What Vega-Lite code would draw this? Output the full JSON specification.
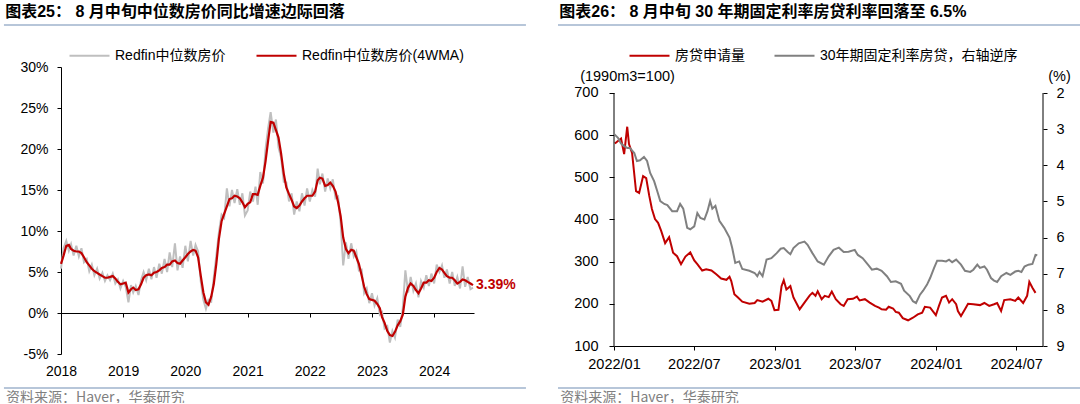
{
  "$schema": "https://vega.github.io/schema/vega-lite/v6.json",
  "background": "#ffffff",
  "padding": {"left": 3, "top": 4, "right": 0, "bottom": -3},
  "spacing": 30,
  "bounds": "full",
  "resolve": {"scale": {"color": "independent"}, "legend": {"color": "independent"}},
  "config": {
    "font": "Liberation Sans, Noto Sans CJK SC",
    "view": {"stroke": null},
    "axis": {"grid": false, "domainColor": "#000000", "tickColor": "#000000", "labelColor": "#000000", "labelFont": "Liberation Sans, Noto Sans CJK SC", "titleFont": "Liberation Sans, Noto Sans CJK SC", "titleColor": "#000000", "titleFontWeight": "normal", "domainWidth": 1, "tickWidth": 1},
    "legend": {"labelFont": "Liberation Sans, Noto Sans CJK SC", "labelColor": "#000000"},
    "title": {"font": "Liberation Sans, Noto Sans CJK SC", "color": "#000000"}
  },
  "datasets": {
    "redfin": [
      {"d":"2018-01-01","wma":6.0,"raw":5.4},{"d":"2018-01-16","wma":7.0,"raw":7.9},{"d":"2018-02-01","wma":8.2,"raw":8.8},{"d":"2018-02-16","wma":8.3,"raw":7.6},
      {"d":"2018-03-01","wma":7.8,"raw":8.4},{"d":"2018-03-16","wma":7.6,"raw":7.0},{"d":"2018-04-01","wma":7.5,"raw":8.2},{"d":"2018-04-16","wma":7.5,"raw":6.9},
      {"d":"2018-05-01","wma":7.3,"raw":7.9},{"d":"2018-05-16","wma":6.8,"raw":6.2},{"d":"2018-06-01","wma":6.2,"raw":6.6},{"d":"2018-06-16","wma":5.8,"raw":5.1},
      {"d":"2018-07-01","wma":5.4,"raw":5.9},{"d":"2018-07-16","wma":5.1,"raw":4.6},{"d":"2018-08-01","wma":4.9,"raw":5.4},{"d":"2018-08-16","wma":4.7,"raw":4.2},
      {"d":"2018-09-01","wma":4.5,"raw":4.9},{"d":"2018-09-16","wma":4.3,"raw":3.9},{"d":"2018-10-01","wma":4.3,"raw":4.6},{"d":"2018-10-16","wma":4.4,"raw":4.0},
      {"d":"2018-11-01","wma":4.5,"raw":4.8},{"d":"2018-11-16","wma":4.2,"raw":3.6},{"d":"2018-12-01","wma":3.8,"raw":4.1},{"d":"2018-12-16","wma":3.5,"raw":3.0},
      {"d":"2019-01-01","wma":3.6,"raw":3.9},{"d":"2019-01-16","wma":3.7,"raw":3.2},{"d":"2019-02-01","wma":2.5,"raw":1.3},{"d":"2019-02-16","wma":2.9,"raw":3.4},
      {"d":"2019-03-01","wma":3.1,"raw":2.5},{"d":"2019-03-16","wma":2.8,"raw":3.3},{"d":"2019-04-01","wma":2.9,"raw":2.2},{"d":"2019-04-16","wma":3.5,"raw":4.0},
      {"d":"2019-05-01","wma":4.3,"raw":5.0},{"d":"2019-05-16","wma":4.6,"raw":4.0},{"d":"2019-06-01","wma":4.7,"raw":5.4},{"d":"2019-06-16","wma":4.6,"raw":4.1},
      {"d":"2019-07-01","wma":4.9,"raw":5.6},{"d":"2019-07-16","wma":5.0,"raw":4.3},{"d":"2019-08-01","wma":5.2,"raw":6.0},{"d":"2019-08-16","wma":5.5,"raw":4.8},
      {"d":"2019-09-01","wma":5.6,"raw":6.6},{"d":"2019-09-16","wma":5.9,"raw":5.0},{"d":"2019-10-01","wma":5.9,"raw":7.4},{"d":"2019-10-16","wma":6.3,"raw":5.6},
      {"d":"2019-11-01","wma":6.4,"raw":8.5},{"d":"2019-11-16","wma":6.1,"raw":5.2},{"d":"2019-12-01","wma":6.0,"raw":6.9},{"d":"2019-12-16","wma":6.4,"raw":5.5},
      {"d":"2020-01-01","wma":6.8,"raw":8.2},{"d":"2020-01-16","wma":7.2,"raw":6.3},{"d":"2020-02-01","wma":7.5,"raw":8.8},{"d":"2020-02-16","wma":7.7,"raw":7.0},
      {"d":"2020-03-01","wma":7.6,"raw":8.3},{"d":"2020-03-16","wma":6.8,"raw":7.5},{"d":"2020-04-01","wma":4.5,"raw":3.8},{"d":"2020-04-16","wma":2.5,"raw":1.6},
      {"d":"2020-05-01","wma":1.3,"raw":0.5},{"d":"2020-05-16","wma":1.0,"raw":1.6},{"d":"2020-06-01","wma":2.0,"raw":1.4},{"d":"2020-06-16","wma":3.5,"raw":4.3},
      {"d":"2020-07-01","wma":6.0,"raw":7.0},{"d":"2020-07-16","wma":9.0,"raw":9.8},{"d":"2020-08-01","wma":11.2,"raw":12.0},{"d":"2020-08-16","wma":12.1,"raw":11.6},
      {"d":"2020-09-01","wma":13.0,"raw":15.2},{"d":"2020-09-16","wma":13.9,"raw":13.0},{"d":"2020-10-01","wma":14.0,"raw":15.0},{"d":"2020-10-16","wma":14.3,"raw":13.4},
      {"d":"2020-11-01","wma":14.2,"raw":15.1},{"d":"2020-11-16","wma":14.0,"raw":13.2},{"d":"2020-12-01","wma":13.5,"raw":14.6},{"d":"2020-12-16","wma":12.9,"raw":11.9},
      {"d":"2021-01-01","wma":13.3,"raw":12.5},{"d":"2021-01-16","wma":13.5,"raw":14.8},{"d":"2021-02-01","wma":14.5,"raw":13.6},{"d":"2021-02-16","wma":14.5,"raw":15.4},
      {"d":"2021-03-01","wma":14.4,"raw":13.2},{"d":"2021-03-16","wma":15.5,"raw":17.2},{"d":"2021-04-01","wma":16.5,"raw":15.8},{"d":"2021-04-16","wma":18.5,"raw":20.0},
      {"d":"2021-05-01","wma":21.0,"raw":22.5},{"d":"2021-05-16","wma":23.3,"raw":24.5},{"d":"2021-06-01","wma":23.2,"raw":22.0},{"d":"2021-06-16","wma":22.3,"raw":23.6},
      {"d":"2021-07-01","wma":21.4,"raw":20.2},{"d":"2021-07-16","wma":19.5,"raw":19.0},{"d":"2021-08-01","wma":17.0,"raw":16.0},{"d":"2021-08-16","wma":15.3,"raw":15.9},
      {"d":"2021-09-01","wma":14.5,"raw":13.6},{"d":"2021-09-16","wma":13.8,"raw":14.6},{"d":"2021-10-01","wma":13.0,"raw":12.0},{"d":"2021-10-16","wma":12.8,"raw":13.6},
      {"d":"2021-11-01","wma":13.1,"raw":12.4},{"d":"2021-11-16","wma":13.6,"raw":14.6},{"d":"2021-12-01","wma":14.0,"raw":13.1},{"d":"2021-12-16","wma":14.3,"raw":15.2},
      {"d":"2022-01-01","wma":14.3,"raw":13.6},{"d":"2022-01-16","wma":14.3,"raw":15.0},{"d":"2022-02-01","wma":14.8,"raw":14.2},{"d":"2022-02-16","wma":16.2,"raw":17.6},
      {"d":"2022-03-01","wma":16.5,"raw":15.7},{"d":"2022-03-16","wma":16.4,"raw":17.0},{"d":"2022-04-01","wma":15.5,"raw":14.8},{"d":"2022-04-16","wma":15.6,"raw":16.4},
      {"d":"2022-05-01","wma":15.9,"raw":15.2},{"d":"2022-05-16","wma":15.5,"raw":16.3},{"d":"2022-06-01","wma":14.8,"raw":14.0},{"d":"2022-06-16","wma":13.5,"raw":14.2},
      {"d":"2022-07-01","wma":11.8,"raw":11.0},{"d":"2022-07-16","wma":9.2,"raw":5.8},{"d":"2022-08-01","wma":7.8,"raw":8.6},{"d":"2022-08-16","wma":7.3,"raw":6.6},
      {"d":"2022-09-01","wma":7.7,"raw":8.5},{"d":"2022-09-16","wma":7.6,"raw":6.9},{"d":"2022-10-01","wma":6.8,"raw":7.5},{"d":"2022-10-16","wma":6.0,"raw":5.2},
      {"d":"2022-11-01","wma":4.6,"raw":5.3},{"d":"2022-11-16","wma":3.2,"raw":2.4},{"d":"2022-12-01","wma":2.3,"raw":3.0},{"d":"2022-12-16","wma":1.7,"raw":1.2},
      {"d":"2023-01-01","wma":1.6,"raw":2.4},{"d":"2023-01-16","wma":1.5,"raw":0.9},{"d":"2023-02-01","wma":1.1,"raw":1.8},{"d":"2023-02-16","wma":0.6,"raw":-0.2},
      {"d":"2023-03-01","wma":-0.5,"raw":0.1},{"d":"2023-03-16","wma":-1.2,"raw":-1.9},{"d":"2023-04-01","wma":-2.2,"raw":-1.6},{"d":"2023-04-16","wma":-2.7,"raw":-3.6},
      {"d":"2023-05-01","wma":-2.8,"raw":-2.2},{"d":"2023-05-16","wma":-2.3,"raw":-3.0},{"d":"2023-06-01","wma":-1.5,"raw":-0.8},{"d":"2023-06-16","wma":-1.0,"raw":-1.7},
      {"d":"2023-07-01","wma":-0.2,"raw":0.6},{"d":"2023-07-16","wma":2.0,"raw":5.2},{"d":"2023-08-01","wma":3.1,"raw":2.5},{"d":"2023-08-16","wma":3.6,"raw":4.4},
      {"d":"2023-09-01","wma":3.3,"raw":2.7},{"d":"2023-09-16","wma":2.8,"raw":3.6},{"d":"2023-10-01","wma":2.4,"raw":1.9},{"d":"2023-10-16","wma":3.0,"raw":3.9},
      {"d":"2023-11-01","wma":3.7,"raw":3.1},{"d":"2023-11-16","wma":3.7,"raw":4.6},{"d":"2023-12-01","wma":4.0,"raw":3.3},{"d":"2023-12-16","wma":3.9,"raw":4.8},
      {"d":"2024-01-01","wma":4.3,"raw":3.6},{"d":"2024-01-16","wma":5.0,"raw":5.9},{"d":"2024-02-01","wma":5.5,"raw":5.0},{"d":"2024-02-16","wma":5.3,"raw":5.8},
      {"d":"2024-03-01","wma":4.9,"raw":4.3},{"d":"2024-03-16","wma":4.5,"raw":5.3},{"d":"2024-04-01","wma":4.3,"raw":3.6},{"d":"2024-04-16","wma":4.3,"raw":5.0},
      {"d":"2024-05-01","wma":4.0,"raw":3.3},{"d":"2024-05-16","wma":3.6,"raw":4.4},{"d":"2024-06-01","wma":3.8,"raw":3.0},{"d":"2024-06-16","wma":4.1,"raw":5.7},
      {"d":"2024-07-01","wma":4.0,"raw":3.2},{"d":"2024-07-16","wma":3.8,"raw":4.4},{"d":"2024-08-01","wma":3.6,"raw":2.9},{"d":"2024-08-16","wma":3.39,"raw":3.1}
    ],
    "apps": [
      {"d":"2022-01-03","v":580},{"d":"2022-01-10","v":586},{"d":"2022-01-17","v":592},{"d":"2022-01-24","v":555},{"d":"2022-01-31","v":620},{"d":"2022-02-04","v":579},
      {"d":"2022-02-11","v":558},{"d":"2022-02-20","v":467},{"d":"2022-02-27","v":463},{"d":"2022-03-08","v":503},{"d":"2022-03-15","v":498},{"d":"2022-03-22","v":456},
      {"d":"2022-03-28","v":425},{"d":"2022-04-04","v":401},{"d":"2022-04-11","v":392},{"d":"2022-04-18","v":373},{"d":"2022-04-27","v":344},{"d":"2022-05-06","v":358},
      {"d":"2022-05-15","v":321},{"d":"2022-05-24","v":313},{"d":"2022-06-02","v":294},{"d":"2022-06-12","v":312},{"d":"2022-06-23","v":322},{"d":"2022-07-02","v":303},
      {"d":"2022-07-09","v":294},{"d":"2022-07-20","v":279},{"d":"2022-07-29","v":282},{"d":"2022-08-10","v":279},{"d":"2022-08-21","v":270},{"d":"2022-09-01","v":260},
      {"d":"2022-09-13","v":257},{"d":"2022-09-20","v":264},{"d":"2022-09-24","v":254},{"d":"2022-10-01","v":223},{"d":"2022-10-08","v":216},{"d":"2022-10-19","v":205},
      {"d":"2022-11-04","v":200},{"d":"2022-11-16","v":202},{"d":"2022-11-22","v":209},{"d":"2022-12-04","v":205},{"d":"2022-12-17","v":212},{"d":"2022-12-24","v":207},
      {"d":"2022-12-31","v":185},{"d":"2023-01-09","v":186},{"d":"2023-01-16","v":242},{"d":"2023-01-21","v":256},{"d":"2023-01-27","v":234},{"d":"2023-02-05","v":242},
      {"d":"2023-02-12","v":215},{"d":"2023-02-26","v":187},{"d":"2023-03-09","v":203},{"d":"2023-03-21","v":220},{"d":"2023-03-27","v":226},{"d":"2023-04-03","v":219},
      {"d":"2023-04-08","v":230},{"d":"2023-04-17","v":211},{"d":"2023-04-24","v":219},{"d":"2023-05-03","v":216},{"d":"2023-05-10","v":229},{"d":"2023-05-19","v":211},
      {"d":"2023-05-30","v":199},{"d":"2023-06-06","v":195},{"d":"2023-06-15","v":211},{"d":"2023-06-27","v":212},{"d":"2023-07-06","v":217},{"d":"2023-07-12","v":208},
      {"d":"2023-07-24","v":211},{"d":"2023-08-04","v":203},{"d":"2023-08-16","v":195},{"d":"2023-08-25","v":191},{"d":"2023-08-31","v":187},{"d":"2023-09-10","v":186},
      {"d":"2023-09-16","v":193},{"d":"2023-09-26","v":189},{"d":"2023-10-02","v":181},{"d":"2023-10-09","v":179},{"d":"2023-10-18","v":166},{"d":"2023-10-30","v":161},
      {"d":"2023-11-10","v":167},{"d":"2023-11-21","v":175},{"d":"2023-12-01","v":179},{"d":"2023-12-07","v":193},{"d":"2023-12-19","v":191},{"d":"2024-01-01","v":173},
      {"d":"2024-01-08","v":195},{"d":"2024-01-15","v":215},{"d":"2024-01-24","v":219},{"d":"2024-01-31","v":203},{"d":"2024-02-07","v":211},{"d":"2024-02-16","v":199},
      {"d":"2024-02-20","v":183},{"d":"2024-02-27","v":171},{"d":"2024-03-07","v":187},{"d":"2024-03-14","v":200},{"d":"2024-03-26","v":199},{"d":"2024-04-10","v":197},
      {"d":"2024-04-20","v":202},{"d":"2024-05-01","v":195},{"d":"2024-05-12","v":199},{"d":"2024-05-19","v":202},{"d":"2024-05-28","v":183},{"d":"2024-06-04","v":209},
      {"d":"2024-06-18","v":211},{"d":"2024-06-29","v":207},{"d":"2024-07-06","v":215},{"d":"2024-07-17","v":202},{"d":"2024-07-26","v":219},{"d":"2024-07-31","v":252},
      {"d":"2024-08-07","v":238},{"d":"2024-08-14","v":226}
    ],
    "rate": [
      {"d":"2022-01-01","v":3.13},{"d":"2022-01-10","v":3.24},{"d":"2022-01-17","v":3.40},{"d":"2022-01-24","v":3.47},{"d":"2022-01-31","v":3.52},{"d":"2022-02-06","v":3.52},
      {"d":"2022-02-16","v":3.66},{"d":"2022-02-22","v":3.88},{"d":"2022-03-01","v":3.86},{"d":"2022-03-10","v":3.77},{"d":"2022-03-17","v":3.88},{"d":"2022-03-24","v":4.21},
      {"d":"2022-04-02","v":4.44},{"d":"2022-04-09","v":4.71},{"d":"2022-04-16","v":4.99},{"d":"2022-04-25","v":5.07},{"d":"2022-05-02","v":5.10},{"d":"2022-05-13","v":5.27},
      {"d":"2022-05-24","v":5.27},{"d":"2022-05-31","v":5.07},{"d":"2022-06-07","v":5.20},{"d":"2022-06-16","v":5.73},{"d":"2022-06-23","v":5.77},{"d":"2022-07-02","v":5.69},
      {"d":"2022-07-09","v":5.32},{"d":"2022-07-16","v":5.46},{"d":"2022-07-25","v":5.50},{"d":"2022-08-01","v":5.27},{"d":"2022-08-07","v":4.99},{"d":"2022-08-12","v":5.20},
      {"d":"2022-08-19","v":5.12},{"d":"2022-08-28","v":5.54},{"d":"2022-09-08","v":5.73},{"d":"2022-09-20","v":6.00},{"d":"2022-09-26","v":6.28},{"d":"2022-10-03","v":6.70},
      {"d":"2022-10-12","v":6.66},{"d":"2022-10-19","v":6.87},{"d":"2022-11-04","v":6.92},{"d":"2022-11-16","v":6.98},{"d":"2022-11-22","v":7.07},{"d":"2022-11-27","v":6.95},
      {"d":"2022-12-04","v":7.07},{"d":"2022-12-13","v":6.61},{"d":"2022-12-24","v":6.57},{"d":"2023-01-05","v":6.43},{"d":"2023-01-14","v":6.31},{"d":"2023-01-21","v":6.29},
      {"d":"2023-01-30","v":6.40},{"d":"2023-02-05","v":6.46},{"d":"2023-02-12","v":6.29},{"d":"2023-02-24","v":6.16},{"d":"2023-03-09","v":6.11},{"d":"2023-03-16","v":6.20},
      {"d":"2023-03-27","v":6.43},{"d":"2023-04-08","v":6.66},{"d":"2023-04-22","v":6.75},{"d":"2023-05-03","v":6.52},{"d":"2023-05-14","v":6.34},{"d":"2023-05-26","v":6.28},
      {"d":"2023-06-06","v":6.40},{"d":"2023-06-17","v":6.39},{"d":"2023-07-01","v":6.34},{"d":"2023-07-08","v":6.48},{"d":"2023-07-19","v":6.57},{"d":"2023-07-31","v":6.75},
      {"d":"2023-08-09","v":6.89},{"d":"2023-08-20","v":6.86},{"d":"2023-08-31","v":6.92},{"d":"2023-09-12","v":7.07},{"d":"2023-09-21","v":7.23},{"d":"2023-10-02","v":7.21},
      {"d":"2023-10-14","v":7.28},{"d":"2023-10-21","v":7.47},{"d":"2023-11-03","v":7.62},{"d":"2023-11-10","v":7.76},{"d":"2023-11-17","v":7.81},{"d":"2023-11-26","v":7.58},
      {"d":"2023-12-03","v":7.47},{"d":"2023-12-12","v":7.30},{"d":"2023-12-19","v":7.12},{"d":"2023-12-28","v":6.84},{"d":"2024-01-04","v":6.64},{"d":"2024-01-15","v":6.64},
      {"d":"2024-01-24","v":6.66},{"d":"2024-01-31","v":6.61},{"d":"2024-02-07","v":6.68},{"d":"2024-02-16","v":6.61},{"d":"2024-02-27","v":6.75},{"d":"2024-03-07","v":6.92},
      {"d":"2024-03-19","v":6.95},{"d":"2024-03-26","v":6.89},{"d":"2024-04-04","v":6.75},{"d":"2024-04-10","v":6.84},{"d":"2024-04-20","v":6.80},{"d":"2024-04-26","v":6.89},
      {"d":"2024-05-05","v":7.12},{"d":"2024-05-12","v":7.19},{"d":"2024-05-19","v":7.23},{"d":"2024-05-28","v":7.07},{"d":"2024-06-09","v":6.98},{"d":"2024-06-18","v":7.03},
      {"d":"2024-06-29","v":6.94},{"d":"2024-07-06","v":6.92},{"d":"2024-07-13","v":6.95},{"d":"2024-07-20","v":6.80},{"d":"2024-07-29","v":6.75},{"d":"2024-08-07","v":6.73},
      {"d":"2024-08-14","v":6.48},{"d":"2024-08-18","v":6.49}
    ]
  },
  "hconcat": [
    {
      "width": 413,
      "height": 287,
      "title": {"text": "图表25： 8 月中旬中位数房价同比增速边际回落", "anchor": "start", "frame": "bounds", "fontSize": 16, "fontWeight": "bold", "offset": 4, "dx": 2},
      "resolve": {"axis": {"x": "independent"}},
      "layer": [
        {
          "data": {"name": "redfin"},
          "mark": {"type": "line", "strokeWidth": 2},
          "encoding": {
            "x": {"field": "d", "type": "temporal", "title": null,
              "scale": {"type": "utc", "domain": [{"year": 2018, "month": 1, "date": 1, "utc": true}, {"year": 2024, "month": 8, "date": 22, "utc": true}]},
              "axis": {"orient": "bottom", "values": [{"year": 2018, "month": 1, "date": 1, "utc": true}, {"year": 2019, "month": 1, "date": 1, "utc": true}, {"year": 2020, "month": 1, "date": 1, "utc": true}, {"year": 2021, "month": 1, "date": 1, "utc": true}, {"year": 2022, "month": 1, "date": 1, "utc": true}, {"year": 2023, "month": 1, "date": 1, "utc": true}, {"year": 2024, "month": 1, "date": 1, "utc": true}],
                "format": "%Y", "domain": false, "ticks": false, "tickSize": 0, "labelPadding": 10, "labelFontSize": 14, "labelFlush": false, "labelOverlap": false}},
            "y": {"field": "raw", "type": "quantitative", "title": null,
              "scale": {"domain": [-5, 30], "nice": false, "zero": false},
              "axis": {"values": [-5, 0, 5, 10, 15, 20, 25, 30], "labelExpr": "datum.value + '%'", "tickSize": 4, "labelPadding": 9, "labelFontSize": 14}},
            "color": {"datum": "Redfin中位数房价", "type": "nominal",
              "scale": {"domain": ["Redfin中位数房价", "Redfin中位数房价(4WMA)"], "range": ["#BFBFBF", "#C00000"]},
              "legend": {"orient": "none", "legendX": 7, "legendY": -33, "direction": "horizontal", "title": null, "symbolType": "stroke", "symbolSize": 1600, "symbolStrokeWidth": 2.2, "labelFontSize": 14, "labelOffset": 4, "columnPadding": 26, "padding": 0, "labelLimit": 300}}
          }
        },
        {
          "data": {"name": "redfin"},
          "mark": {"type": "line", "strokeWidth": 2.2},
          "encoding": {
            "x": {"field": "d", "type": "temporal", "title": null,
              "axis": {"orient": "bottom", "values": [{"year": 2018, "month": 1, "date": 1, "utc": true}, {"year": 2019, "month": 1, "date": 1, "utc": true}, {"year": 2020, "month": 1, "date": 1, "utc": true}, {"year": 2021, "month": 1, "date": 1, "utc": true}, {"year": 2022, "month": 1, "date": 1, "utc": true}, {"year": 2023, "month": 1, "date": 1, "utc": true}, {"year": 2024, "month": 1, "date": 1, "utc": true}],
                "offset": -41, "labels": false, "domain": true, "ticks": true, "tickSize": 4}},
            "y": {"field": "wma", "type": "quantitative", "title": null},
            "color": {"datum": "Redfin中位数房价(4WMA)", "type": "nominal"}
          }
        },
        {
          "data": {"values": [{"d": "2024-08-16", "wma": 3.39, "label": "3.39%"}]},
          "mark": {"type": "text", "align": "left", "baseline": "middle", "dx": 3, "fontSize": 14, "fontWeight": "bold", "color": "#C00000"},
          "encoding": {
            "x": {"field": "d", "type": "temporal", "axis": null},
            "y": {"field": "wma", "type": "quantitative", "title": null},
            "text": {"field": "label"}
          }
        },
        {
          "data": {"values": [{}]},
          "mark": {"type": "rule", "color": "#9FB3CD", "strokeWidth": 1.5},
          "encoding": {
            "x": {"datum": {"year": 2017, "month": 1, "date": 31, "utc": true}, "type": "temporal", "axis": null},
            "x2": {"datum": {"year": 2025, "month": 6, "date": 23, "utc": true}},
            "y": {"datum": 35.12, "type": "quantitative", "title": null}
          }
        },
        {
          "data": {"values": [{}]},
          "mark": {"type": "rule", "color": "#9FB3CD", "strokeWidth": 1.5},
          "encoding": {
            "x": {"datum": {"year": 2017, "month": 1, "date": 31, "utc": true}, "type": "temporal", "axis": null},
            "x2": {"datum": {"year": 2025, "month": 6, "date": 23, "utc": true}},
            "y": {"datum": -9.15, "type": "quantitative", "title": null}
          }
        },
        {
          "data": {"values": [{}]},
          "mark": {"type": "text", "align": "left", "baseline": "middle", "fontSize": 14, "color": "#808080", "font": "Noto Sans CJK SC, Liberation Sans"},
          "encoding": {
            "x": {"datum": {"year": 2017, "month": 2, "date": 12, "utc": true}, "type": "temporal", "axis": null},
            "y": {"datum": -10.37, "type": "quantitative", "title": null},
            "text": {"value": "资料来源：Haver，华泰研究"}
          }
        }
      ]
    },
    {
      "width": 429,
      "height": 279,
      "title": {"text": "图表26： 8 月中旬 30 年期固定利率房贷利率回落至 6.5%", "anchor": "start", "frame": "bounds", "fontSize": 16, "fontWeight": "bold", "offset": 4, "dx": 2},
      "resolve": {"scale": {"y": "independent"}, "axis": {"y": "independent"}},
      "layer": [
        {
          "layer": [
            {
              "data": {"name": "apps"},
              "mark": {"type": "line", "strokeWidth": 2},
              "encoding": {
                "x": {"field": "d", "type": "temporal", "title": null,
                  "scale": {"type": "utc", "domain": [{"year": 2022, "month": 1, "date": 1, "utc": true}, {"year": 2024, "month": 8, "date": 31, "utc": true}]},
                  "axis": {"orient": "bottom", "values": [{"year": 2022, "month": 1, "date": 1, "utc": true}, {"year": 2022, "month": 7, "date": 1, "utc": true}, {"year": 2023, "month": 1, "date": 1, "utc": true}, {"year": 2023, "month": 7, "date": 1, "utc": true}, {"year": 2024, "month": 1, "date": 1, "utc": true}, {"year": 2024, "month": 7, "date": 1, "utc": true}],
                    "format": "%Y/%m", "tickSize": 4, "labelPadding": 7, "labelFontSize": 14.5, "labelFlush": false, "labelOverlap": false}},
                "y": {"field": "v", "type": "quantitative", "title": "(1990m3=100)",
                  "scale": {"domain": [100, 761.66], "nice": false, "zero": false},
                  "axis": {"orient": "left", "domain": false, "values": [100, 200, 300, 400, 500, 600, 700], "tickSize": 5, "labelPadding": 11, "labelFontSize": 14.5, "titleAngle": 0, "titleAlign": "center", "titleBaseline": "bottom", "titleX": 13, "titleY": 16, "titleFontSize": 14.5}},
                "color": {"datum": "房贷申请量", "type": "nominal",
                  "scale": {"domain": ["房贷申请量", "30年期固定利率房贷，右轴逆序"], "range": ["#C00000", "#808080"]},
                  "legend": {"orient": "none", "legendX": 14, "legendY": -33, "direction": "horizontal", "title": null, "symbolType": "stroke", "symbolSize": 1600, "symbolStrokeWidth": 2.2, "labelFontSize": 14, "labelOffset": 4, "columnPadding": 25, "padding": 0, "labelLimit": 300}}
              }
            },
            {
              "data": {"values": [{}]},
              "mark": {"type": "rule", "color": "#000000", "strokeWidth": 1},
              "encoding": {
                "x": {"datum": {"year": 2022, "month": 1, "date": 1, "utc": true}, "type": "temporal", "title": null},
                "y": {"datum": 100, "type": "quantitative", "title": null},
                "y2": {"datum": 700}
              }
            },
            {
              "data": {"values": [{}]},
              "mark": {"type": "rule", "color": "#000000", "strokeWidth": 1},
              "encoding": {
                "x": {"datum": {"year": 2024, "month": 8, "date": 31, "utc": true}, "type": "temporal", "title": null},
                "y": {"datum": 100, "type": "quantitative", "title": null},
                "y2": {"datum": 700}
              }
            },
            {
              "data": {"values": [{}]},
              "mark": {"type": "rule", "color": "#9FB3CD", "strokeWidth": 1.5},
              "encoding": {
                "x": {"datum": {"year": 2021, "month": 8, "date": 27, "utc": true}, "type": "temporal", "title": null},
                "x2": {"datum": {"year": 2024, "month": 11, "date": 23, "utc": true}},
                "y": {"datum": 861.3, "type": "quantitative", "title": null}
              }
            },
            {
              "data": {"values": [{}]},
              "mark": {"type": "rule", "color": "#9FB3CD", "strokeWidth": 1.5},
              "encoding": {
                "x": {"datum": {"year": 2021, "month": 8, "date": 27, "utc": true}, "type": "temporal", "title": null},
                "x2": {"datum": {"year": 2024, "month": 11, "date": 23, "utc": true}},
                "y": {"datum": 0.4, "type": "quantitative", "title": null}
              }
            },
            {
              "data": {"values": [{}]},
              "mark": {"type": "text", "align": "left", "baseline": "middle", "fontSize": 14, "color": "#808080", "font": "Noto Sans CJK SC, Liberation Sans"},
              "encoding": {
                "x": {"datum": {"year": 2021, "month": 9, "date": 1, "utc": true}, "type": "temporal", "title": null},
                "y": {"datum": -23.3, "type": "quantitative", "title": null},
                "text": {"value": "资料来源：Haver，华泰研究"}
              }
            }
          ]
        },
        {
          "data": {"name": "rate"},
          "mark": {"type": "line", "strokeWidth": 2},
          "encoding": {
            "x": {"field": "d", "type": "temporal", "title": null},
            "y": {"field": "v", "type": "quantitative", "title": "(%)",
              "scale": {"domain": [1.2806, 9], "reverse": true, "nice": false, "zero": false},
              "axis": {"orient": "right", "domain": false, "values": [2, 3, 4, 5, 6, 7, 8, 9], "tickSize": 4, "labelPadding": 9, "labelFontSize": 14.5, "titleAngle": 0, "titleAlign": "center", "titleBaseline": "bottom", "titleX": 16, "titleY": 16, "titleFontSize": 14.5}},
            "color": {"datum": "30年期固定利率房贷，右轴逆序", "type": "nominal"}
          }
        }
      ]
    }
  ]
}
